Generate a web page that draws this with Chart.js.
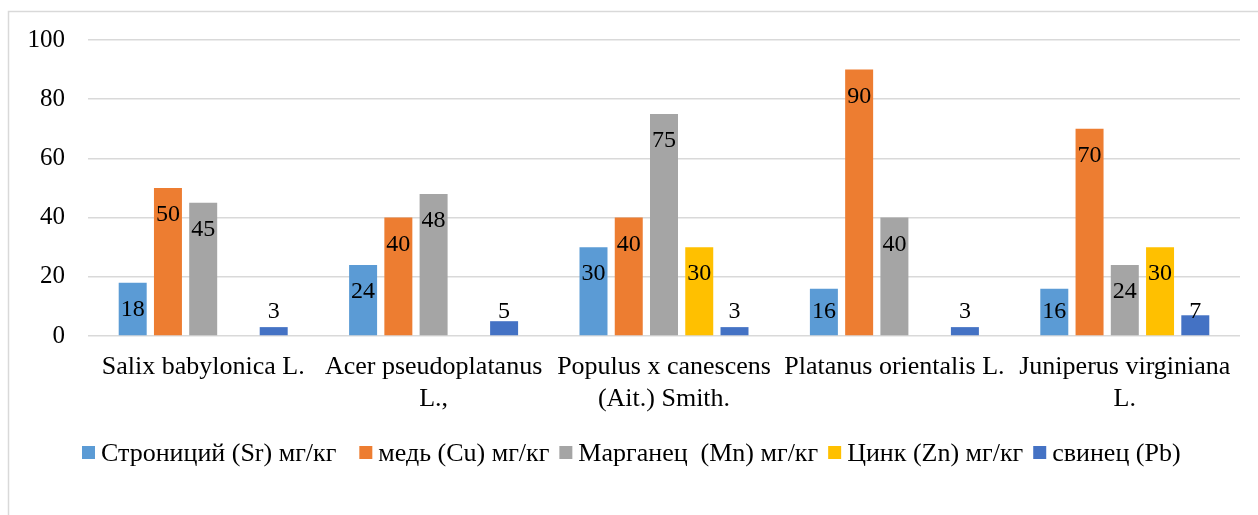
<!DOCTYPE html>
<html>
<head>
<meta charset="utf-8">
<script src="https://cdn.jsdelivr.net/npm/chart.js@4"></script>
<style>
  html, body { margin: 0; padding: 0; background: #fff; }
  #chart { display: block; }
</style>
</head>
<body>
<canvas id="chart" width="1258" height="515"></canvas>
<script>
// Data
const categories = [
  ['Salix babylonica L.'],
  ['Acer pseudoplatanus', 'L.,'],
  ['Populus x canescens', '(Ait.) Smith.'],
  ['Platanus orientalis L.'],
  ['Juniperus virginiana', 'L.']
];
const seriesNames = [
  'Строниций (Sr) мг/кг  ',
  'медь (Cu) мг/кг',
  'Марганец  (Mn) мг/кг',
  'Цинк (Zn) мг/кг',
  'свинец (Pb)'
];
const strontium = [18, 24, 30, 16, 16];
const copper = [50, 40, 40, 90, 70];
const manganese = [45, 48, 75, 40, 24];
const zinc = [null, null, 30, null, 30];
const lead = [3, 5, 3, 3, 7];
const yTicks = [0, 20, 40, 60, 80, 100];

const colors = ['#5B9BD5', '#ED7D31', '#A5A5A5', '#FFC000', '#4472C4'];
const FONT = "'Times New Roman', 'Liberation Serif', serif";

const allSeries = [strontium, copper, manganese, zinc, lead];

// Frame around the whole chart (Excel chart border)
const framePlugin = {
  id: 'frame',
  beforeDraw(chart) {
    const ctx = chart.ctx;
    ctx.save();
    ctx.fillStyle = '#fff';
    ctx.fillRect(0, 0, chart.width, chart.height);
    ctx.strokeStyle = '#D9D9D9';
    ctx.lineWidth = 1.5;
    ctx.strokeRect(8.5, 11.5, chart.width + 20, chart.height + 20);
    ctx.restore();
  }
};

// Value labels: inside the top of the bar, but never below the axis
const valueLabels = {
  id: 'valueLabels',
  afterDatasetsDraw(chart) {
    const ctx = chart.ctx;
    ctx.save();
    ctx.font = '24px ' + FONT;
    ctx.fillStyle = '#000';
    ctx.textAlign = 'center';
    ctx.textBaseline = 'middle';
    chart.data.datasets.forEach((ds, i) => {
      const meta = chart.getDatasetMeta(i);
      meta.data.forEach((bar, j) => {
        const v = ds.data[j];
        if (v == null) return;
        const y = Math.min(bar.y + 27, bar.base - 24);
        ctx.fillText(String(v), bar.x, y);
      });
    });
    ctx.restore();
  }
};

// Legend drawn by hand so the box/text spacing matches Excel
const bottomLegend = {
  id: 'bottomLegend',
  afterDraw(chart) {
    const ctx = chart.ctx;
    ctx.save();
    ctx.font = '26px ' + FONT;
    ctx.textBaseline = 'middle';
    ctx.textAlign = 'left';
    const box = 13, gap = 6, spacing = 10;
    let x = 82;
    const y = 453;
    chart.data.datasets.forEach((ds) => {
      ctx.fillStyle = ds.backgroundColor;
      ctx.fillRect(x, y - 7, box, box);
      ctx.fillStyle = '#000';
      ctx.fillText(ds.label, x + box + gap, y + 1);
      x += box + gap + ctx.measureText(ds.label).width + spacing;
    });
    ctx.restore();
  }
};

new Chart(document.getElementById('chart'), {
  type: 'bar',
  data: {
    labels: categories,
    datasets: seriesNames.map((name, i) => ({
      label: name,
      data: allSeries[i],
      backgroundColor: colors[i],
      borderWidth: 0,
      categoryPercentage: 0.765,
      barPercentage: 0.794
    }))
  },
  options: {
    responsive: false,
    animation: false,
    layout: { padding: { left: 8, right: 18, top: 40, bottom: 0 } },
    plugins: {
      legend: { display: false },
      tooltip: { enabled: false }
    },
    scales: {
      x: {
        grid: { display: false, drawTicks: false },
        border: { display: false },
        ticks: {
          autoSkip: false,
          maxRotation: 0,
          padding: 15,
          color: '#000',
          font: { family: FONT, size: 26, lineHeight: 1.24 }
        },
        afterFit(scale) { scale.height = 179; }
      },
      y: {
        min: 0,
        max: 100,
        afterBuildTicks(scale) { scale.ticks = yTicks.map(v => ({ value: v })); },
        grid: { color: '#D9D9D9', lineWidth: 1.5, drawTicks: false },
        border: { display: false },
        ticks: {
          padding: 23,
          color: '#000',
          font: { family: FONT, size: 25 }
        },
        afterFit(scale) { scale.width = 80; }
      }
    }
  },
  plugins: [framePlugin, valueLabels, bottomLegend]
});
</script>
</body>
</html>
